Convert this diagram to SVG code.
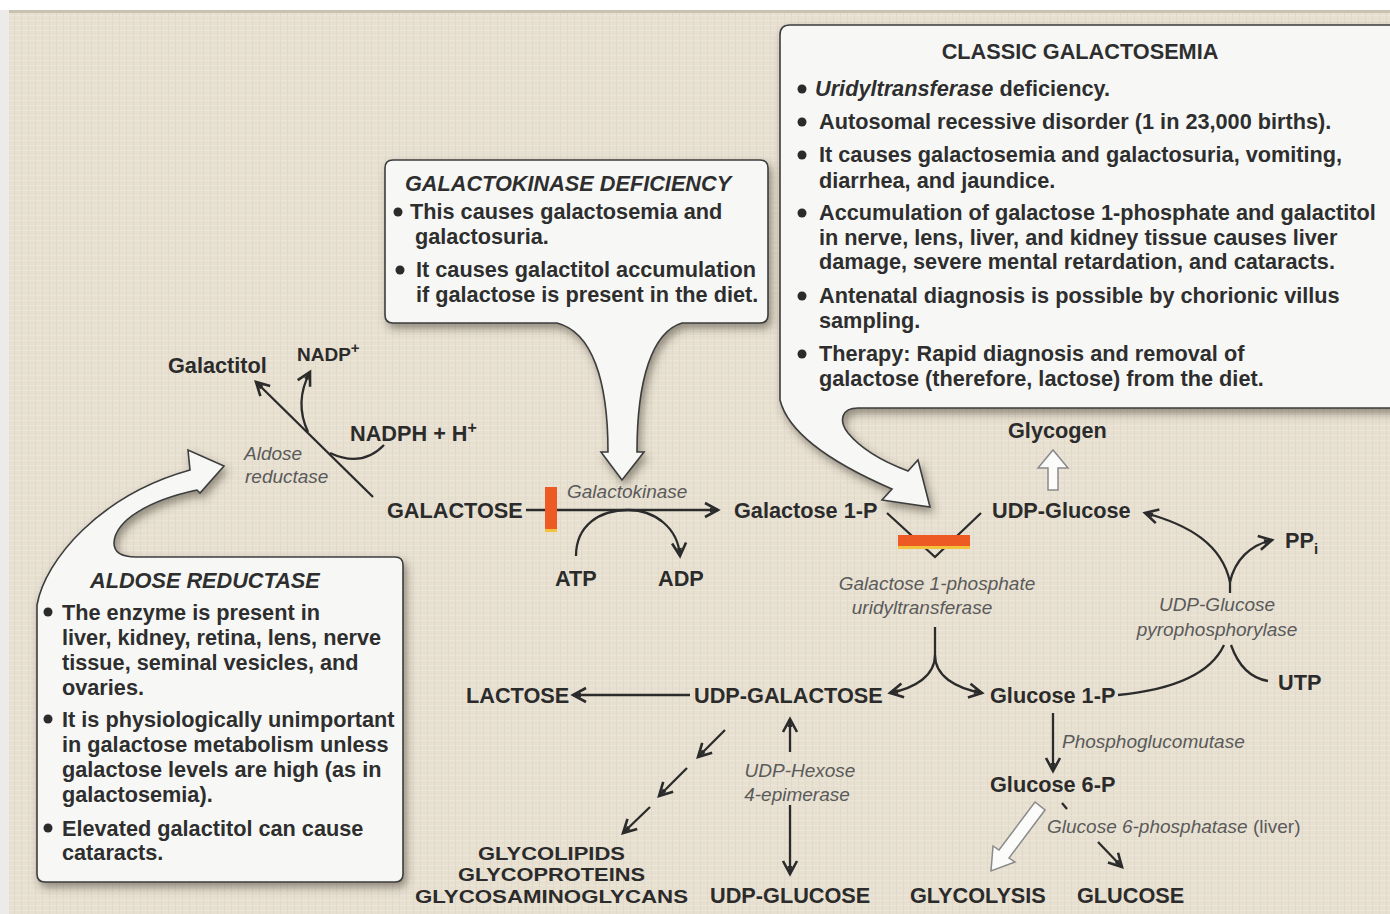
<svg xmlns="http://www.w3.org/2000/svg" width="1390" height="914" viewBox="0 0 1390 914">
<defs>
<pattern id="tex" width="7" height="5" patternUnits="userSpaceOnUse">
<rect width="7" height="5" fill="#e7e0d1"/>
<line x1="0" y1="0.5" x2="7" y2="0.5" stroke="#ece6d8" stroke-width="1"/>
<line x1="0.5" y1="0" x2="0.5" y2="5" stroke="#e1d9ca" stroke-width="1"/>
</pattern>
<filter id="sh" x="-10%" y="-10%" width="125%" height="125%">
<feDropShadow dx="3" dy="5" stdDeviation="4" flood-color="#3a3428" flood-opacity="0.5"/>
</filter>
<marker id="ah" viewBox="0 0 20 20" refX="17" refY="10" markerWidth="20" markerHeight="20" markerUnits="userSpaceOnUse" orient="auto">
<path d="M4,3 L17,10 L4,17" fill="none" stroke="#2b2b2b" stroke-width="2.6" stroke-linejoin="miter"/>
<path d="M9,7.5 L17,10 L9,12.5 Z" fill="#2b2b2b"/>
</marker>
<style>
.lbl{font-family:"Liberation Sans",Arial,sans-serif;font-weight:bold;font-size:21.7px;fill:#2b2b2b}
.sm{font-size:19px}
.gl{font-size:19px}
.enz{font-family:"Liberation Sans",Arial,sans-serif;font-style:italic;font-size:19px;fill:#5a5a5a}
.bx{font-family:"Liberation Sans",Arial,sans-serif;font-weight:bold;font-size:21.7px;fill:#2e2e2e}
.ttl{font-style:italic}
.box{fill:#f7f8f6;stroke:#3d3d3d;stroke-width:1.6;filter:url(#sh)}
.ln{fill:none;stroke:#2b2b2b;stroke-width:2.3}
.ar{fill:none;stroke:#2b2b2b;stroke-width:2.3;marker-end:url(#ah)}
.hol{fill:#fbfbfa;stroke:#8a8a8a;stroke-width:1.5}
.blk{fill:#2b2b2b}
.mid{text-anchor:middle}
</style>
</defs>
<rect width="1390" height="914" fill="#ffffff"/>
<rect x="9" y="10" width="1381" height="904" fill="url(#tex)"/>
<rect x="9" y="10" width="1381" height="3" fill="#c9c1b2"/>
<rect x="0" y="10" width="9" height="904" fill="#ecebea"/>

<g id="connectors">
<path class="ar" d="M373,497 L256,382"/>
<path class="ar" d="M308,432 Q294,402 310,372"/>
<path class="ln" d="M384,445 Q362,468 330,453"/>
<path class="ar" d="M526,510 L718,510"/>
<path class="ar" d="M576,556 C576,525 600,510 628,510 C655,510 678,528 680,556"/>
<path class="ln" d="M887,513 L935,557 L981,513"/>
<path class="ln" d="M935,627 L935,655"/>
<path class="ar" d="M935,655 C935,676 915,688 890,693"/>
<path class="ar" d="M935,655 C935,676 955,688 982,693"/>
<path class="ar" d="M690,695 L573,695"/>
<path class="ln" d="M1118,695 C1170,690 1210,675 1224,645"/>
<path class="ln" d="M1231,645 C1238,665 1250,678 1268,681"/>
<path class="ln" d="M1230,593 L1230,580"/>
<path class="ar" d="M1230,582 C1222,545 1190,525 1145,513"/>
<path class="ar" d="M1230,582 C1235,560 1250,545 1272,540"/>
<path class="ar" d="M1053,713 L1053,771"/>
<path class="ln" d="M1062,803 L1067,809"/>
<path class="ar" d="M1098,842 L1122,867"/>
<path class="ar" d="M725,730 L698,757"/>
<path class="ar" d="M687,768 L659,796"/>
<path class="ar" d="M650,807 L623,833"/>
<path class="ar" d="M790,752 L790,719"/>
<path class="ar" d="M790,805 L790,874"/>
<path class="hol" d="M1048,490 L1048,468 L1038,468 L1053,450 L1068,468 L1058,468 L1058,490 Z"/>
<path class="hol" d="M1045,810 L1009,858 L1015,862 L991,871 L993,846 L999,850 L1035,802 Z"/>
</g>

<g id="blocks">
<rect x="545" y="487" width="12" height="45" fill="#ee5a24"/>
<rect x="545" y="529" width="12" height="3" fill="#f2c23c"/>
<rect x="898" y="535" width="72" height="13" fill="#ee5a24"/>
<rect x="898" y="546" width="72" height="3" fill="#f2c23c"/>
</g>

<g id="galactitol"><text class="lbl" x="168" y="373">Galactitol</text></g>
<g id="nadp"><text class="lbl sm" x="297" y="361">NADP<tspan font-size="15" dy="-8">+</tspan></text></g>
<g id="nadph"><text class="lbl" x="350" y="441">NADPH + H<tspan font-size="16" dy="-8">+</tspan></text></g>
<g id="aldose-enz"><text class="enz" x="244" y="460">Aldose</text><text class="enz" x="245" y="483">reductase</text></g>
<g id="galactose"><text class="lbl" x="387" y="518">GALACTOSE</text></g>
<g id="galactokinase"><text class="enz" x="567" y="498">Galactokinase</text></g>
<g id="atp"><text class="lbl" x="555" y="586">ATP</text></g>
<g id="adp"><text class="lbl" x="658" y="586">ADP</text></g>
<g id="gal1p"><text class="lbl" x="734" y="518">Galactose 1-P</text></g>
<g id="udpglc"><text class="lbl" x="992" y="518">UDP-Glucose</text></g>
<g id="glycogen"><text class="lbl" x="1008" y="438">Glycogen</text></g>
<g id="ppi"><text class="lbl" x="1285" y="548">PP<tspan font-size="15" dy="6">i</tspan></text></g>
<g id="galt"><text class="enz mid" x="937" y="590">Galactose 1-phosphate</text><text class="enz mid" x="922" y="614">uridyltransferase</text></g>
<g id="ugp"><text class="enz mid" x="1217" y="611">UDP-Glucose</text><text class="enz mid" x="1217" y="636">pyrophosphorylase</text></g>
<g id="utp"><text class="lbl" x="1278" y="690">UTP</text></g>
<g id="lactose"><text class="lbl" x="466" y="703">LACTOSE</text></g>
<g id="udpgal"><text class="lbl" x="694" y="703">UDP-GALACTOSE</text></g>
<g id="glc1p"><text class="lbl" x="990" y="703">Glucose 1-P</text></g>
<g id="pgm"><text class="enz" x="1062" y="748">Phosphoglucomutase</text></g>
<g id="glc6p"><text class="lbl" x="990" y="792">Glucose 6-P</text></g>
<g id="g6pase"><text class="enz" x="1047" y="833">Glucose 6-phosphatase <tspan font-style="normal">(liver)</tspan></text></g>
<g id="glycolysis"><text class="lbl" x="910" y="903">GLYCOLYSIS</text></g>
<g id="glucose"><text class="lbl" x="1077" y="903">GLUCOSE</text></g>
<g id="epimerase"><text class="enz mid" x="800" y="777">UDP-Hexose</text><text class="enz mid" x="797" y="801">4-epimerase</text></g>
<g id="glyco">
<text class="lbl gl" x="478" y="860" textLength="147" lengthAdjust="spacingAndGlyphs">GLYCOLIPIDS</text>
<text class="lbl gl" x="458" y="881" textLength="187" lengthAdjust="spacingAndGlyphs">GLYCOPROTEINS</text>
<text class="lbl gl" x="415" y="903" textLength="273" lengthAdjust="spacingAndGlyphs">GLYCOSAMINOGLYCANS</text>
</g>
<g id="udpglc2"><text class="lbl" x="710" y="903">UDP-GLUCOSE</text></g>

<g id="box-galactokinase">
<path class="box" d="M393,160 H760 Q768,160 768,168 V315 Q768,323 760,323 H682 C652,332 637,380 637,452 L644,452 L622,480 L601,452 L608,452 C608,380 592,332 557,323 H393 Q385,323 385,315 V168 Q385,160 393,160 Z"/>
<text class="bx ttl" x="405" y="191">GALACTOKINASE DEFICIENCY</text>
<circle class="blk" cx="398" cy="212" r="4.5"/>
<text class="bx" x="410" y="219">This causes galactosemia and</text>
<text class="bx" x="415" y="244">galactosuria.</text>
<circle class="blk" cx="400" cy="270" r="4.5"/>
<text class="bx" x="416" y="277">It causes galactitol accumulation</text>
<text class="bx" x="416" y="302">if galactose is present in the diet.</text>
</g>

<g id="box-classic">
<path class="box" d="M790,25 H1396 V408 H858 C842,408 838,420 848,433 C862,450 884,462 908,471 L918,460 L930,507 L882,500 L892,489 C848,470 790,440 780,400 V35 Q780,25 790,25 Z"/>
<text class="bx mid" x="1080" y="59">CLASSIC GALACTOSEMIA</text>
<circle class="blk" cx="802" cy="89" r="4.5"/>
<text class="bx" x="815" y="96"><tspan font-style="italic">Uridyltransferase</tspan> deficiency.</text>
<circle class="blk" cx="802" cy="122" r="4.5"/>
<text class="bx" x="819" y="129">Autosomal recessive disorder  (1 in 23,000 births).</text>
<circle class="blk" cx="802" cy="155" r="4.5"/>
<text class="bx" x="819" y="162">It causes galactosemia and galactosuria, vomiting,</text>
<text class="bx" x="819" y="188">diarrhea, and jaundice.</text>
<circle class="blk" cx="802" cy="213" r="4.5"/>
<text class="bx" x="819" y="220">Accumulation of galactose 1-phosphate and galactitol</text>
<text class="bx" x="819" y="245">in nerve, lens, liver, and kidney tissue causes liver</text>
<text class="bx" x="819" y="269">damage, severe mental retardation, and cataracts.</text>
<circle class="blk" cx="802" cy="296" r="4.5"/>
<text class="bx" x="819" y="303">Antenatal diagnosis is possible by chorionic villus</text>
<text class="bx" x="819" y="328">sampling.</text>
<circle class="blk" cx="802" cy="354" r="4.5"/>
<text class="bx" x="819" y="361">Therapy: Rapid diagnosis and removal of</text>
<text class="bx" x="819" y="386">galactose (therefore, lactose) from the diet.</text>
</g>

<g id="box-aldose">
<path class="box" d="M37,605 C45,560 100,495 190,470 L188,450 L224,466 L200,493 L197,490 C150,500 115,520 114,543 C114,553 122,557 136,557 H395 Q403,557 403,565 V874 Q403,882 395,882 H45 Q37,882 37,874 Z"/>
<text class="bx ttl" x="90" y="588">ALDOSE REDUCTASE</text>
<circle class="blk" cx="48" cy="612" r="4.5"/>
<text class="bx" x="62" y="620">The enzyme is present in</text>
<text class="bx" x="62" y="645">liver, kidney, retina, lens, nerve</text>
<text class="bx" x="62" y="670">tissue, seminal vesicles, and</text>
<text class="bx" x="62" y="695">ovaries.</text>
<circle class="blk" cx="48" cy="719" r="4.5"/>
<text class="bx" x="62" y="727">It is physiologically unimportant</text>
<text class="bx" x="62" y="752">in galactose metabolism unless</text>
<text class="bx" x="62" y="777">galactose levels are high (as in</text>
<text class="bx" x="62" y="802">galactosemia).</text>
<circle class="blk" cx="48" cy="828" r="4.5"/>
<text class="bx" x="62" y="836">Elevated galactitol can cause</text>
<text class="bx" x="62" y="860">cataracts.</text>
</g>
</svg>
